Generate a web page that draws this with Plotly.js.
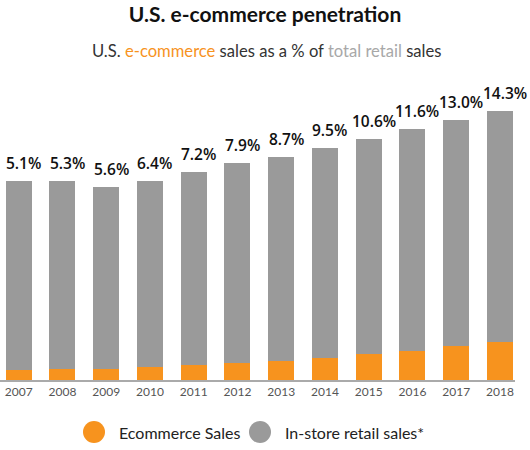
<!DOCTYPE html>
<html>
<head>
<meta charset="utf-8">
<script src="https://cdn.plot.ly/plotly-3.0.1.min.js"></script>
<style>html,body{margin:0;padding:0;background:#fff;}#chart{width:530px;height:450px;}</style>
</head>
<body>
<div id="chart"></div>
<script>
// Data
var years = ['2007','2008','2009','2010','2011','2012','2013','2014','2015','2016','2017','2018'];
// e-commerce share of total retail sales (%)
var ecomShare = [5.1, 5.3, 5.6, 6.4, 7.2, 7.9, 8.7, 9.5, 10.6, 11.6, 13.0, 14.3];
// total retail sales (estimated, $ trillions)
var totalRetail = [2.65, 2.66, 2.57, 2.65, 2.78, 2.89, 2.97, 3.10, 3.22, 3.35, 3.47, 3.59];

var ecomSales = totalRetail.map(function(t, i){ return +(t * ecomShare[i] / 100).toFixed(3); });
var instoreSales = totalRetail.map(function(t, i){ return +(t - ecomSales[i]).toFixed(3); });

var ORANGE = '#F7931E', GRAY = '#9A9A9A';

var traces = [
  {type:'bar', name:'Ecommerce Sales', x: years, y: ecomSales,
   marker:{color: ORANGE}, showlegend:false, hoverinfo:'x+y'},
  {type:'bar', name:'In-store retail sales*', x: years, y: instoreSales,
   marker:{color: GRAY}, showlegend:false, hoverinfo:'x+y'}
];

var annotations = years.map(function(yr, i){
  return {x: i, y: totalRetail[i], xref:'x', yref:'y', text: ecomShare[i].toFixed(1) + '%',
    showarrow:false, yanchor:'bottom', xanchor:'center', yshift:5, xshift:5,
    font:{family:'Open Sans, sans-serif', size:15.5, color:'#111', weight:600}};
});

annotations.push({xref:'paper', yref:'paper', x:0.518, y:1.097, xanchor:'center', yanchor:'middle',
  showarrow:false,
  text:'U.S. <span style="color:#F7931E">e-commerce</span> sales as a % of <span style="color:#A8A8A8">total retail</span> sales',
  font:{family:'Lato, sans-serif', size:16.6, color:'#333'}});

// manual legend
var legendItems = [
  {label:'Ecommerce Sales', color: ORANGE, cx: 94, tx: 116.5},
  {label:'In-store retail sales*', color: GRAY, cx: 260, tx: 283}
];
var plotW = 515, plotH = 300, plotBottom = 380;
var legY = (plotBottom - 432) / plotH;
var shapes = [];
legendItems.forEach(function(it){
  shapes.push({type:'circle', xref:'paper', yref:'paper', xsizemode:'pixel', ysizemode:'pixel',
    xanchor: it.cx / plotW, yanchor: legY, x0:-11, x1:11, y0:-11, y1:11,
    fillcolor: it.color, line:{width:0}});
  annotations.push({xref:'paper', yref:'paper', x: it.tx / plotW, y: legY, xanchor:'left', yanchor:'middle',
    showarrow:false, text: it.label, font:{family:'Lato, sans-serif', size:16, color:'#222'}});
});

var layout = {
  width:530, height:450,
  margin:{l:0, r:15, t:80, b:70},
  paper_bgcolor:'#fff', plot_bgcolor:'#fff',
  barmode:'stack', bargap:0.406,
  title:{text:'<b>U.S. e-commerce penetration</b>', x:0.5, xref:'container', y:1 - 15/450, yref:'container',
    yanchor:'middle', font:{family:'Lato, sans-serif', size:21, color:'#111'}},
  xaxis:{type:'category', range:[-0.427, 11.343], showline:true, linecolor:'#AAAAAA', linewidth:1.5,
    ticks:'', showgrid:false, zeroline:false,
    tickfont:{family:'Lato, sans-serif', size:12, color:'#555'}},
  yaxis:{range:[0, 4.0], showticklabels:false, ticks:'', showline:false, showgrid:false, zeroline:false, fixedrange:true},
  annotations: annotations,
  shapes: shapes,
  showlegend:false
};

Plotly.newPlot('chart', traces, layout, {displayModeBar:false, staticPlot:true});
</script>
</body>
</html>
